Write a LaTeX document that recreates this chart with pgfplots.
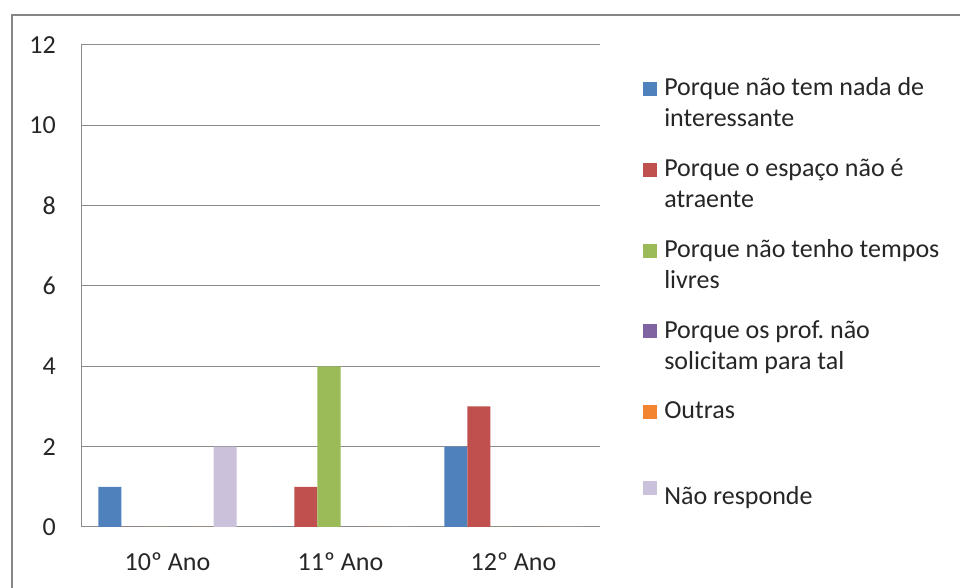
\documentclass[border=0pt]{standalone}
\usepackage{fontspec}
\setmainfont{Carlito}
\usepackage{pgfplots}
\pgfplotsset{compat=1.18}
\definecolor{c1}{HTML}{4F81BD}
\definecolor{c2}{HTML}{C0504D}
\definecolor{c3}{HTML}{9BBB59}
\definecolor{c4}{HTML}{8064A2}
\definecolor{c5}{HTML}{F38430}
\definecolor{c6}{HTML}{CCC1DA}
\definecolor{framegray}{HTML}{868686}
\definecolor{gridgray}{HTML}{8C8C8C}
\definecolor{txt}{HTML}{262626}
\pgfplotsset{
  twoline/.style={legend image code/.code={\fill[##1, draw=none] (0bp,7bp) rectangle (14bp,21bp);}},
  oneline/.style={legend image code/.code={\fill[##1, draw=none] (0bp,1bp) rectangle (14bp,15bp);}},
}
\frenchspacing
\begin{document}
\begin{tikzpicture}[x=1bp,y=1bp]
\useasboundingbox (0,0) rectangle (960,588);
\fill[white] (0,0) rectangle (960,588);
\draw[framegray, line width=2.2bp] (12,-5) -- (12,573) -- (965,573);
\begin{axis}[
  at={(81bp,61bp)}, anchor=south west,
  scale only axis, width=519bp, height=482bp,
  ybar=0pt, bar width=23.07bp,
  xmin=-0.5, xmax=2.5, ymin=0, ymax=12,
  ytick={0,2,...,12},
  xtick={0,1,2}, xticklabels={10º Ano,11º Ano,12º Ano},
  axis x line*=bottom, axis y line*=left,
  axis line style={-, gridgray, line width=1bp},
  ymajorgrids, grid style={gridgray, line width=1bp},
  major tick length=0pt,
  tick label style={font=\fontsize{26bp}{31bp}\selectfont, text=txt, inner sep=0pt},
  yticklabel style={xshift=-25bp},
  xticklabel style={yshift=-26bp},
  /pgf/number format/assume math mode=true,
  legend style={at={(1.083,0.933)}, anchor=north west, draw=none, fill=none,
    inner sep=0pt, row sep=30.5bp, column sep=7bp,
    font=\fontsize{26bp}{31bp}\selectfont, text=txt,
    nodes={inner sep=0pt, align=left}},
  legend cell align=left,
]
\addplot[fill=c1, draw=none, twoline] coordinates {(0,1) (1,0) (2,2)};
\addlegendentry{Porque não tem nada de\\interessante}
\addplot[fill=c2, draw=none, twoline] coordinates {(0,0) (1,1) (2,3)};
\addlegendentry{Porque o espaço não é\\atraente}
\addplot[fill=c3, draw=none, twoline] coordinates {(0,0) (1,4) (2,0)};
\addlegendentry{Porque não tenho tempos\\livres}
\addplot[fill=c4, draw=none, twoline] coordinates {(0,0) (1,0) (2,0)};
\addlegendentry{Porque os prof.\ não\\solicitam para tal}
\addplot[fill=c5, draw=none, twoline] coordinates {(0,0) (1,0) (2,0)};
\addlegendentry{Outras\\\strut}
\addplot[fill=c6, draw=none, oneline] coordinates {(0,2) (1,0) (2,0)};
\addlegendentry{Não responde}
\end{axis}
\end{tikzpicture}
\end{document}
